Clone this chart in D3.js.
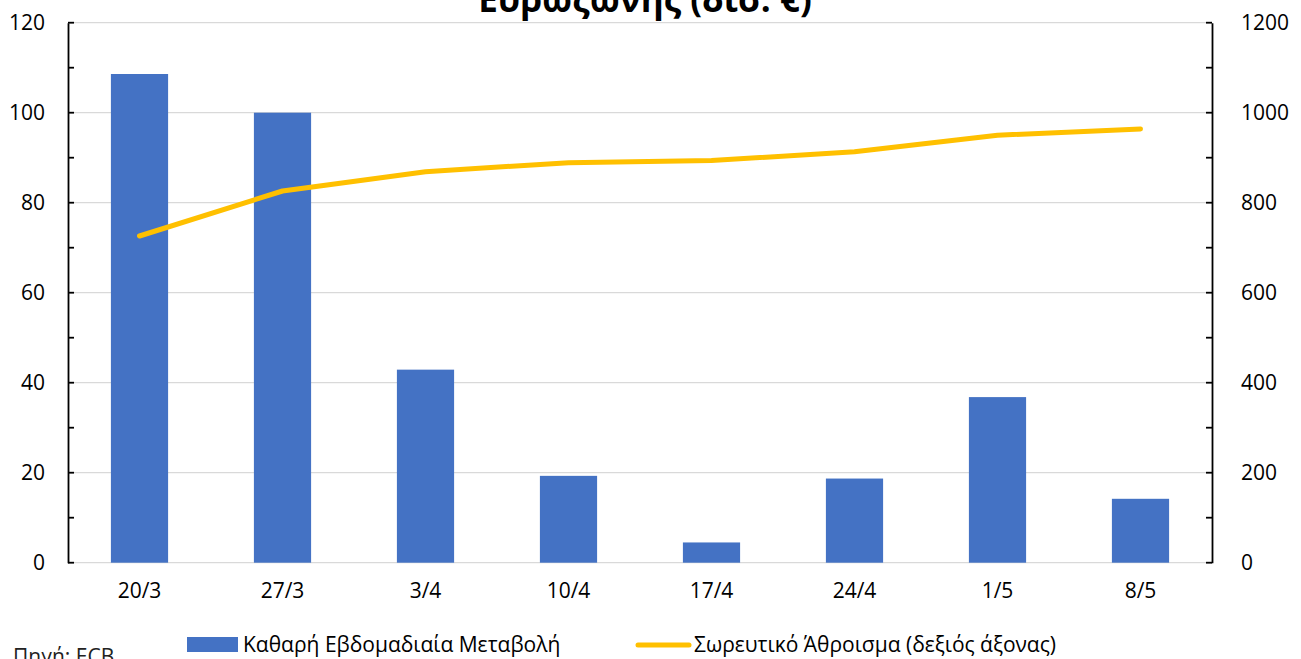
<!DOCTYPE html>
<html><head><meta charset="utf-8">
<script src="https://cdn.jsdelivr.net/npm/d3@7"></script>
<style>html,body{margin:0;padding:0;background:#fff;overflow:hidden}svg{display:block;font-family:"Open Sans",sans-serif}</style>
</head><body>
<svg id="c" width="1301" height="659"></svg>
<script>
const categories = ["20/3","27/3","3/4","10/4","17/4","24/4","1/5","8/5"];
const weeklyChange = [108.6,100.0,42.9,19.3,4.5,18.7,36.8,14.2];
const cumulative = [726,826,869,889,894,913,950,964];
const leftTicks = [0,20,40,60,80,100,120];
const rightTicks = [0,200,400,600,800,1000,1200];
const titleText = "Ευρωζώνης (δισ. €)";
const seriesNames = ["Καθαρή Εβδομαδιαία Μεταβολή","Σωρευτικό Άθροισμα (δεξιός άξονας)"];
const sourceText = "Πηγή: ECB";

const svg = d3.select("#c");
const L = 68, R = 1212, T = 22.7, B = 562.7;
const x = d3.scaleBand().domain(categories).range([L,R]).paddingInner(0.6).paddingOuter(0.3);
const yL = d3.scaleLinear().domain([0,120]).range([B,T]);
const yR = d3.scaleLinear().domain([0,1200]).range([B,T]);

// gridlines
svg.append("g").selectAll("line").data(leftTicks).join("line")
  .attr("x1",L).attr("x2",R).attr("y1",d=>yL(d)).attr("y2",d=>yL(d))
  .attr("stroke","#d9d9d9").attr("stroke-width",1.3);

// bars
svg.append("g").selectAll("rect").data(weeklyChange).join("rect")
  .attr("x",(d,i)=>x(categories[i])).attr("width",x.bandwidth())
  .attr("y",d=>yL(d)).attr("height",d=>B-yL(d)).attr("fill","#4472C4");

// line
const line = d3.line().x((d,i)=>x(categories[i])+x.bandwidth()/2).y(d=>yR(d));
svg.append("path").datum(cumulative).attr("d",line).attr("fill","none")
  .attr("stroke","#FFC000").attr("stroke-width",5).attr("stroke-linecap","round").attr("stroke-linejoin","round");

// left axis
const gl = svg.append("g").attr("transform",`translate(${L},0)`)
  .call(d3.axisLeft(yL).tickValues(leftTicks).tickSize(0).tickPadding(23));
gl.select(".domain").attr("stroke","#000").attr("stroke-width",1.8);
gl.selectAll("text").attr("font-size",21).attr("fill","#000").attr("font-family","Open Sans");
svg.append("g").selectAll("line").data(d3.range(0,121,10)).join("line")
  .attr("x1",L).attr("x2",L+6).attr("y1",d=>yL(d)).attr("y2",d=>yL(d)).attr("stroke","#000").attr("stroke-width",1.8);

// right axis
const gr = svg.append("g").attr("transform",`translate(${R},0)`)
  .call(d3.axisRight(yR).tickValues(rightTicks).tickFormat(d3.format("d")).tickSize(0).tickPadding(29));
gr.select(".domain").attr("stroke","#000").attr("stroke-width",1.8);
gr.selectAll("text").attr("font-size",21).attr("fill","#000").attr("font-family","Open Sans");
svg.append("g").selectAll("line").data(d3.range(0,1201,100)).join("line")
  .attr("x1",R-6).attr("x2",R).attr("y1",d=>yR(d)).attr("y2",d=>yR(d)).attr("stroke","#000").attr("stroke-width",1.8);

// x axis labels
const gx = svg.append("g").attr("transform",`translate(0,${B})`)
  .call(d3.axisBottom(x).tickSize(0).tickPadding(20));
gx.select(".domain").remove();
gx.selectAll("text").attr("font-size",21).attr("fill","#000").attr("font-family","Open Sans");

// title
svg.append("text").attr("x",645).attr("y",12).attr("text-anchor","middle")
  .attr("font-size",35).attr("font-weight","bold").text(titleText);

// legend
svg.append("rect").attr("x",187).attr("y",637).attr("width",51).attr("height",15).attr("fill","#4472C4");
svg.append("text").attr("x",243).attr("y",652).attr("font-size",21).text(seriesNames[0]);
svg.append("line").attr("x1",638).attr("x2",689).attr("y1",645).attr("y2",645)
  .attr("stroke","#FFC000").attr("stroke-width",5).attr("stroke-linecap","round");
svg.append("text").attr("x",694).attr("y",652).attr("font-size",21).text(seriesNames[1]);
svg.append("text").attr("x",13).attr("y",664).attr("font-size",21).attr("fill","#222").text(sourceText);
</script>
</body></html>
